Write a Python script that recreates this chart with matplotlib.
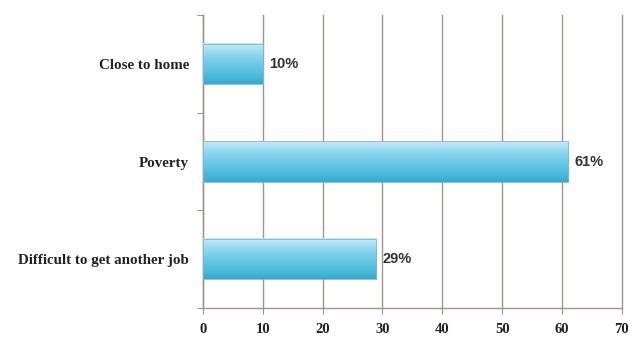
import numpy as np
import matplotlib
matplotlib.use('Agg')
import matplotlib.pyplot as plt
from matplotlib.colors import LinearSegmentedColormap

categories = ['Close to home', 'Poverty', 'Difficult to get another job']
values = [10, 61, 29]
value_labels = ['10%', '61%', '29%']
x_ticks = [0, 10, 20, 30, 40, 50, 60, 70]


def main():
    fig = plt.figure(figsize=(6.32, 3.39), dpi=100)
    ax = fig.add_axes([0.321, 0.091, 0.663, 0.865])

    grid_c = '#9d9590'
    bar_h = 0.41
    ypos = np.arange(len(categories))

    # vertical gradient, light on top and deeper cyan lower down
    cmap = LinearSegmentedColormap.from_list(
        'barfill', ['#c4e9f6', '#95d8ef', '#6cc9e7', '#52bde0', '#3aa9cf'])
    grad = np.linspace(0, 1, 64).reshape(-1, 1)

    for y, v in zip(ypos, values):
        ax.imshow(grad, cmap=cmap, aspect='auto',
                  extent=(0, v, y - bar_h / 2, y + bar_h / 2),
                  origin='lower', zorder=3)
        ax.barh(y, v, height=bar_h, facecolor='none',
                edgecolor='#7fb8cc', linewidth=0.6, zorder=4)

    for y, v, lab in zip(ypos, values, value_labels):
        ax.text(v + 1.0, y, lab, va='center', ha='left',
                fontsize=10.5, fontweight='bold', color='#333333',
                family='Liberation Sans', zorder=5)

    ax.set_xlim(0, 70)
    ax.set_ylim(len(categories) - 0.5, -0.5)
    ax.set_xticks(x_ticks)
    ax.set_xticklabels([str(t) for t in x_ticks], fontsize=10.5,
                       fontweight='bold', family='Liberation Serif',
                       color='#222222')

    ax.set_yticks(np.arange(len(categories) + 1) - 0.5)
    ax.set_yticklabels([])
    ax.set_yticks(ypos, minor=True)
    ax.set_yticklabels(categories, minor=True, fontsize=10.8,
                       fontweight='bold', family='Liberation Serif',
                       color='#222222')
    ax.tick_params(axis='y', which='minor', length=0, pad=10)
    ax.tick_params(axis='y', which='major', length=4, color=grid_c)
    ax.tick_params(axis='x', length=4, color=grid_c, pad=7)

    ax.xaxis.grid(True, color=grid_c, linewidth=1.0, zorder=0)
    for gl in ax.xaxis.get_gridlines():
        gl.set_clip_on(False)
    ax.set_axisbelow(True)
    for s in ['top', 'right']:
        ax.spines[s].set_visible(False)
    for s in ['left', 'bottom']:
        ax.spines[s].set_color(grid_c)
        ax.spines[s].set_linewidth(1.0)

    fig.savefig('out.png', dpi=100)


if __name__ == '__main__':
    main()
